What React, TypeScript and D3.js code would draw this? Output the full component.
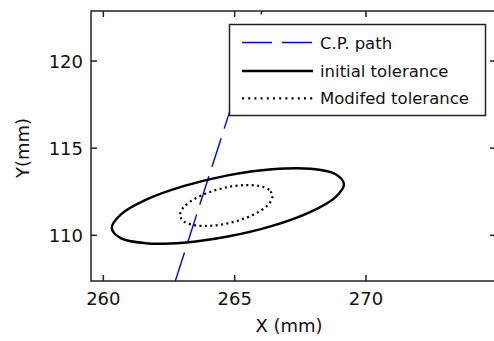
import * as d3 from "d3";
import { useEffect, useRef } from "react";

// X / Y points (mm)
const cpPath: [number, number][] = [
  [262.74, 107.38],
  [266.04, 122.87],
];

const initialTolerance: [number, number][] = [
  [269.16, 112.94], [268.83, 113.52], [267.87, 113.82], [266.43, 113.79],
  [264.74, 113.44], [263.05, 112.82], [261.61, 112.03], [260.66, 111.19],
  [260.32, 110.42], [260.66, 109.84], [261.61, 109.55], [263.05, 109.58],
  [264.74, 109.93], [266.43, 110.54], [267.87, 111.33], [268.83, 112.18],
];

const modifiedTolerance: [number, number][] = [
  [266.44, 112.25], [266.31, 112.61], [265.93, 112.83], [265.35, 112.88],
  [264.68, 112.75], [264.01, 112.46], [263.44, 112.06], [263.05, 111.6],
  [262.92, 111.16], [263.05, 110.81], [263.44, 110.59], [264.01, 110.54],
  [264.68, 110.67], [265.35, 110.96], [265.93, 111.36], [266.31, 111.81],
];

const xTicks = [260, 265, 270];
const yTicks = [110, 115, 120];
const legendLabels = ["C.P. path", "initial tolerance", "Modifed tolerance"];

const W = 494;
const H = 341;
const font = "'DejaVu Sans', sans-serif";

export default function App() {
  const ref = useRef<SVGSVGElement | null>(null);

  useEffect(() => {
    const svg = d3.select(ref.current);
    svg.selectAll("*").remove();

    const left = 91, right = 496, top = 11, bottom = 281;
    const x = d3.scaleLinear().domain([259.53, 274.95]).range([left, right]);
    const y = d3.scaleLinear().domain([107.38, 122.87]).range([bottom, top]);

    svg.append("rect").attr("width", W).attr("height", H).attr("fill", "#fff");

    svg.append("clipPath").attr("id", "plot-clip")
      .append("rect")
      .attr("x", left).attr("y", top)
      .attr("width", right - left).attr("height", bottom - top);

    const plot = svg.append("g").attr("clip-path", "url(#plot-clip)");

    const line = d3.line<[number, number]>().x(d => x(d[0])).y(d => y(d[1]));
    const closed = d3.line<[number, number]>()
      .x(d => x(d[0])).y(d => y(d[1]))
      .curve(d3.curveCatmullRomClosed);

    plot.append("path")
      .attr("d", line(cpPath) as string)
      .attr("fill", "none")
      .attr("stroke", "#0000ff")
      .attr("stroke-width", 1.4)
      .attr("stroke-dasharray", "30,10");

    plot.append("path")
      .attr("d", closed(initialTolerance) as string)
      .attr("fill", "none")
      .attr("stroke", "#000")
      .attr("stroke-width", 2.5);

    plot.append("path")
      .attr("d", closed(modifiedTolerance) as string)
      .attr("fill", "none")
      .attr("stroke", "#000")
      .attr("stroke-width", 2.2)
      .attr("stroke-dasharray", "2,3.4");

    // frame + inward ticks on all sides
    svg.append("rect")
      .attr("x", left).attr("y", top)
      .attr("width", right - left).attr("height", bottom - top)
      .attr("fill", "none").attr("stroke", "#222").attr("stroke-width", 1.5);

    const tl = 6;
    xTicks.forEach(t => {
      svg.append("line").attr("x1", x(t)).attr("x2", x(t)).attr("y1", bottom).attr("y2", bottom - tl)
        .attr("stroke", "#222").attr("stroke-width", 1.5);
      svg.append("line").attr("x1", x(t)).attr("x2", x(t)).attr("y1", top).attr("y2", top + tl)
        .attr("stroke", "#222").attr("stroke-width", 1.5);
      svg.append("text")
        .attr("x", x(t)).attr("y", 305)
        .attr("text-anchor", "middle")
        .attr("font-family", font).attr("font-size", 18).attr("fill", "#111")
        .text(t);
    });
    yTicks.forEach(t => {
      svg.append("line").attr("x1", left).attr("x2", left + tl).attr("y1", y(t)).attr("y2", y(t))
        .attr("stroke", "#222").attr("stroke-width", 1.5);
      svg.append("line").attr("x1", right).attr("x2", right - tl).attr("y1", y(t)).attr("y2", y(t))
        .attr("stroke", "#222").attr("stroke-width", 1.5);
      svg.append("text")
        .attr("x", 83).attr("y", y(t) + 7)
        .attr("text-anchor", "end")
        .attr("font-family", font).attr("font-size", 18).attr("fill", "#111")
        .text(t);
    });

    svg.append("text")
      .attr("x", 289).attr("y", 332)
      .attr("text-anchor", "middle")
      .attr("font-family", font).attr("font-size", 18).attr("fill", "#111")
      .text("X (mm)");

    svg.append("text")
      .attr("transform", `translate(29, 148) rotate(-90)`)
      .attr("text-anchor", "middle")
      .attr("font-family", font).attr("font-size", 18).attr("fill", "#111")
      .text("Y(mm)");

    // legend
    const lg = svg.append("g");
    lg.append("rect")
      .attr("x", 229.5).attr("y", 24.5).attr("width", 256).attr("height", 91)
      .attr("fill", "#fff").attr("stroke", "#222").attr("stroke-width", 1.5);
    const rowY = [42.5, 71, 98.3];
    const styles = [
      { stroke: "#0000ff", w: 1.4, dash: "30,10" },
      { stroke: "#000", w: 2.5, dash: null },
      { stroke: "#000", w: 2.2, dash: "2,4.2" },
    ];
    legendLabels.forEach((label, i) => {
      const s = styles[i];
      const l = lg.append("line")
        .attr("x1", 242).attr("x2", 313).attr("y1", rowY[i]).attr("y2", rowY[i])
        .attr("stroke", s.stroke).attr("stroke-width", s.w);
      if (s.dash) l.attr("stroke-dasharray", s.dash);
      lg.append("text")
        .attr("x", 320).attr("y", rowY[i] + 6)
        .attr("font-family", font).attr("font-size", 16.5).attr("fill", "#111")
        .text(label);
    });
  }, []);

  return (
    <svg
      ref={ref}
      width={W}
      height={H}
      viewBox={`0 0 ${W} ${H}`}
      style={{ position: "absolute", left: 0, top: 0 }}
    />
  );
}
